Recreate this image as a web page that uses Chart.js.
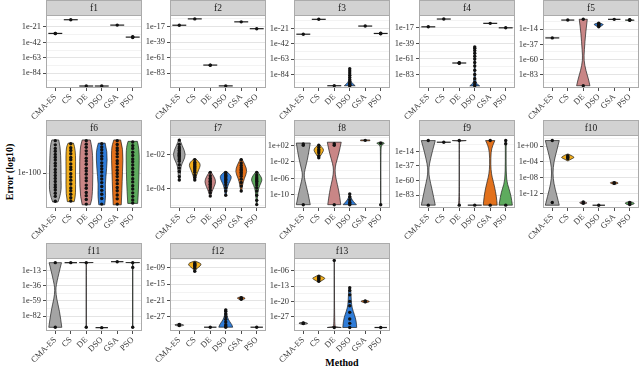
<!DOCTYPE html>
<html>
<head>
<meta charset="utf-8">
<script src="https://cdn.jsdelivr.net/npm/chart.js@4.4.1/dist/chart.umd.min.js"></script>
<style>
  body { margin: 0; background: #fff; width: 640px; height: 370px; overflow: hidden; position: relative; font-family: "Liberation Serif", serif; }
  canvas { position: absolute; }
  #ylab { position: absolute; left: 9px; top: 172px; transform: translate(-50%, -50%) rotate(-90deg); font-weight: bold; font-size: 10px; white-space: nowrap; color: #000; }
  #xlab { position: absolute; left: 342px; top: 362px; transform: translate(-50%, -50%); font-weight: bold; font-size: 10px; color: #000; }
</style>
</head>
<body>
<div id="ylab">Error (log10)</div>
<div id="xlab">Method</div>
<script>
// methods and fill colours
const methods = ['CMA-ES', 'CS', 'DE', 'DSO', 'GSA', 'PSO'];
const colours = ['#a4a4a4', '#f2ae1d', '#c98686', '#2f7cd8', '#e2711c', '#5eab5e'];

// y values are log10(error); violin knots are [log10 value, half width]
// f1
const f1Range = [-104, -5];
const f1Ticks = [-21, -42, -63, -84];
const f1Shapes = [[[-30, 0.45]], [[-11.4, 0.45]], [[-101.3, 0.45]], [[-101.3, 0.45]], [[-18.7, 0.45]], [[-35, 0.45]]];
const f1Points = [[-30, -30], [-11.4], [-101.3], [-101.3], [-18.7], [-34.5, -35, -35.5]];
// f2
const f2Range = [-104, -0.5];
const f2Ticks = [-17, -39, -61, -83];
const f2Shapes = [[[-15, 0.45]], [[-6, 0.45]], [[-71.5, 0.45]], [[-101, 0.45]], [[-10.2, 0.45]], [[-19.9, 0.45]]];
const f2Points = [[-15], [-6], [-71.5, -71.8], [-101], [-10.2], [-19.9]];
// f3
const f3Range = [-102.3, -2.7];
const f3Ticks = [-21, -42, -63, -84];
const f3Shapes = [[[-28.9, 0.45]], [[-8.6, 0.45]], [[-99.2, 0.45]],
  [[-76, 0.02], [-86, 0.03], [-93, 0.06], [-96.5, 0.2], [-99.2, 0.35]],
  [[-17.8, 0.45]], [[-27.9, 0.45]]];
const f3Points = [[-28.9], [-8.6], [-99.2], [-76, -79, -82, -85, -88, -91, -94, -96, -97.5, -98.5, -99.2], [-17.8], [-27.5, -27.9, -28.4]];
// f4
const f4Range = [-102, 1.1];
const f4Ticks = [-17, -39, -61, -83];
const f4Shapes = [[[-15.6, 0.45]], [[-4.6, 0.45]], [[-66.7, 0.45]],
  [[-44, 0.02], [-70, 0.02], [-90, 0.04], [-96, 0.12], [-99, 0.32]],
  [[-10.7, 0.45]], [[-17, 0.45]]];
const f4Points = [[-15.6], [-4.6], [-66.4, -66.7, -67], [-44, -46, -49, -53, -57, -61, -66, -71, -77, -83, -89, -94, -97, -99], [-10.7], [-17]];
// f5
const f5Range = [-103.4, 7.5];
const f5Ticks = [-14, -37, -60, -83];
const f5Shapes = [[[-27.3, 0.45]], [[-0.2, 0.42]],
  [[1, 0.26], [-20, 0.15], [-46, 0.07], [-61, 0.035], [-77, 0.17], [-90, 0.34], [-100, 0.43]],
  [[-4.5, 0.05], [-6.5, 0.33], [-8, 0.25], [-11, 0.04]],
  [[0.9, 0.4]], [[0.3, 0.05], [-0.3, 0.42], [-1, 0.05]]];
const f5Points = [[-27.3], [-0.2], [1, -100], [-5, -6, -6.8, -7.5, -8.5, -10.5], [0.9], [-0.2, -0.6, 0.2]];
// f6
const f6Range = [-100.99, -98.92];
const f6Ticks = [-100];
const f6Shapes = [
  [[-99.06, 0.22], [-99.22, 0.32], [-99.77, 0.37], [-100.23, 0.37], [-100.46, 0.39], [-100.69, 0.28], [-100.82, 0.17]],
  [[-99.15, 0.17], [-99.31, 0.32], [-100.05, 0.3], [-100.6, 0.32], [-100.81, 0.22]],
  [[-99.06, 0.26], [-99.31, 0.41], [-100.05, 0.43], [-100.69, 0.39], [-100.9, 0.26]],
  [[-99.15, 0.22], [-99.4, 0.37], [-99.86, 0.32], [-100.33, 0.22], [-100.65, 0.26], [-100.9, 0.19]],
  [[-99.06, 0.22], [-99.31, 0.39], [-99.96, 0.34], [-100.51, 0.3], [-100.9, 0.26]],
  [[-99.1, 0.3], [-99.31, 0.43], [-99.96, 0.41], [-100.5, 0.37], [-100.86, 0.32]]];
const f6Points = [
  [-99.08, -99.2, -99.3, -99.38, -99.47, -99.55, -99.63, -99.72, -99.8, -99.9, -99.98, -100.07, -100.15, -100.24, -100.33, -100.4, -100.48, -100.57, -100.66, -100.8],
  [-99.17, -99.28, -99.36, -99.45, -99.56, -99.62, -99.74, -99.83, -99.9, -100.02, -100.11, -100.2, -100.31, -100.42, -100.5, -100.6, -100.7, -100.79],
  [-99.08, -99.18, -99.27, -99.37, -99.46, -99.58, -99.66, -99.75, -99.86, -99.94, -100.03, -100.14, -100.22, -100.34, -100.43, -100.55, -100.64, -100.75, -100.88],
  [-99.17, -99.26, -99.34, -99.43, -99.52, -99.6, -99.71, -99.8, -99.88, -99.97, -100.08, -100.17, -100.27, -100.38, -100.49, -100.6, -100.72, -100.88],
  [-99.08, -99.19, -99.29, -99.36, -99.45, -99.54, -99.65, -99.73, -99.83, -99.92, -100.01, -100.1, -100.2, -100.3, -100.41, -100.5, -100.62, -100.73, -100.88],
  [-99.12, -99.22, -99.3, -99.41, -99.5, -99.6, -99.68, -99.77, -99.87, -99.97, -100.05, -100.16, -100.25, -100.36, -100.45, -100.56, -100.66, -100.76, -100.85]];
// f7
const f7Range = [-5.15, -0.85];
const f7Ticks = [-2, -4];
const f7Shapes = [
  [[-1.1, 0.02], [-1.5, 0.2], [-2.0, 0.43], [-2.4, 0.25], [-2.7, 0.1], [-3.2, 0.07], [-3.5, 0.03]],
  [[-2.25, 0.05], [-2.45, 0.3], [-2.65, 0.37], [-2.9, 0.25], [-3.2, 0.12], [-3.5, 0.03]],
  [[-3.0, 0.03], [-3.3, 0.25], [-3.6, 0.37], [-3.9, 0.25], [-4.2, 0.1], [-4.45, 0.03]],
  [[-3.0, 0.05], [-3.2, 0.33], [-3.4, 0.37], [-3.7, 0.2], [-4.0, 0.08], [-4.4, 0.03]],
  [[-2.25, 0.04], [-2.6, 0.25], [-3.0, 0.39], [-3.4, 0.2], [-3.8, 0.08], [-4.15, 0.03]],
  [[-3.0, 0.04], [-3.25, 0.25], [-3.5, 0.37], [-3.8, 0.2], [-4.2, 0.06], [-4.95, 0.02]]];
const f7Points = [
  [-1.15, -1.4, -1.55, -1.65, -1.75, -1.85, -1.92, -2.0, -2.05, -2.12, -2.2, -2.3, -2.4, -2.6, -2.8, -3.0, -3.3, -3.5],
  [-2.3, -2.45, -2.55, -2.62, -2.7, -2.78, -2.86, -2.95, -3.05, -3.2, -3.35, -3.5],
  [-3.05, -3.25, -3.4, -3.5, -3.58, -3.66, -3.75, -3.85, -3.95, -4.1, -4.25, -4.45],
  [-3.05, -3.15, -3.22, -3.3, -3.38, -3.46, -3.55, -3.65, -3.78, -3.95, -4.15, -4.4],
  [-2.3, -2.5, -2.65, -2.78, -2.88, -2.96, -3.05, -3.15, -3.28, -3.45, -3.65, -3.85, -4.15],
  [-3.05, -3.2, -3.32, -3.42, -3.5, -3.58, -3.68, -3.8, -3.95, -4.15, -4.4, -4.7, -4.95]];
// f8
const f8Range = [-13.2, 4.5];
const f8Ticks = [2, -2, -6, -10];
const f8Shapes = [
  [[2.55, 0.45], [-1, 0.3], [-4, 0.1], [-5.2, 0.05], [-6.5, 0.1], [-9.5, 0.3], [-12.4, 0.45]],
  [[2.1, 0.05], [1.4, 0.25], [0.8, 0.33], [0, 0.2], [-1, 0.03]],
  [[2.75, 0.45], [0, 0.3], [-2.5, 0.1], [-4, 0.04], [-6, 0.1], [-9, 0.3], [-12.4, 0.42]],
  [[-9.8, 0.02], [-10.8, 0.08], [-11.7, 0.25], [-12.4, 0.43]],
  [[3.3, 0.3], [3.1, 0.3]],
  [[2.8, 0.05], [2.5, 0.32], [2.2, 0.05], [1, 0.01], [-12.4, 0.01]]];
const f8Points = [[2.0, 2.3, -12.4], [2.0, 1.5, 1.0, 0.6, 0.2, -0.5, -1.0], [2.0, 2.4, -12.4], [-9.8, -10.5, -11.2, -11.8, -12.2, -12.4], [3.2], [2.5, -12.4]];
// f9
const f9Range = [-103.5, 11.8];
const f9Ticks = [-14, -37, -60, -83];
const f9Shapes = [
  [[3, 0.45], [-15, 0.25], [-35, 0.06], [-45, 0.03], [-55, 0.06], [-75, 0.25], [-99, 0.45]],
  [[0.4, 0.45]],
  [[3, 0.45], [2.2, 0.01], [1.4, 0.01], [-98, 0.01], [-99, 0.06]],
  [[-99, 0.45]],
  [[3, 0.3], [-5, 0.15], [-15, 0.05], [-35, 0.03], [-50, 0.08], [-60, 0.18], [-70, 0.28], [-85, 0.4], [-99, 0.45]],
  [[3, 0.03], [-30, 0.02], [-60, 0.05], [-72, 0.2], [-85, 0.35], [-99, 0.43]]];
const f9Points = [[3, -99], [0.4], [3, -99], [-99], [3, -99], [3, -2, -99]];
// f10
const f10Range = [-15.6, 2.8];
const f10Ticks = [0, -4, -8, -12];
const f10Shapes = [
  [[1.4, 0.45], [-1, 0.3], [-4, 0.1], [-6.8, 0.03], [-9.5, 0.1], [-12.5, 0.3], [-14.9, 0.45]],
  [[-2.0, 0.03], [-2.6, 0.35], [-2.9, 0.43], [-3.3, 0.2], [-3.7, 0.03]],
  [[-14.0, 0.05], [-14.3, 0.32], [-14.6, 0.05]],
  [[-14.9, 0.4]],
  [[-9.0, 0.05], [-9.3, 0.35], [-9.6, 0.05]],
  [[-14.0, 0.05], [-14.4, 0.4], [-14.8, 0.1]]];
const f10Points = [[1.4, -14.2], [-2.4, -2.7, -2.9, -3.2], [-14.1, -14.4], [-14.9], [-9.2, -9.4], [-14.2, -14.5, -14.7]];
// f11
const f11Range = [-104.8, 6.3];
const f11Ticks = [-13, -36, -59, -82];
const f11Shapes = [
  [[-0.8, 0.4], [-20, 0.2], [-35, 0.06], [-43, 0.03], [-55, 0.08], [-75, 0.28], [-99.2, 0.42]],
  [[-0.8, 0.4]],
  [[-0.6, 0.45], [-0.9, 0.01], [-1.2, 0.01], [-99, 0.01]],
  [[-99.7, 0.4]],
  [[0.7, 0.4]],
  [[-0.6, 0.45], [-0.9, 0.01], [-1.2, 0.01], [-99, 0.01]]];
const f11Points = [[-0.8, -99.2], [-0.8], [-0.8, -99], [-99.7], [0.7], [-0.8, -8, -99]];
// f12
const f12Range = [-32.3, -5.4];
const f12Ticks = [-9, -15, -21, -27];
const f12Shapes = [
  [[-29.7, 0.05], [-30.1, 0.4], [-30.5, 0.05]],
  [[-6.6, 0.05], [-7.2, 0.35], [-7.9, 0.43], [-8.8, 0.25], [-9.6, 0.08], [-10.4, 0.02]],
  [[-30.9, 0.4]],
  [[-24.3, 0.04], [-26, 0.06], [-27.5, 0.12], [-28.8, 0.25], [-30, 0.4], [-30.9, 0.45]],
  [[-19.7, 0.04], [-20.2, 0.35], [-20.8, 0.04]],
  [[-30.9, 0.4]]];
const f12Points = [[-29.9, -30.1, -30.3], [-7.2, -7.6, -7.9, -8.2, -8.6, -9.2, -10.3], [-30.9], [-24.5, -25, -26, -27, -28, -29, -30, -30.5, -30.9], [-20, -20.3, -20.6], [-30.9]];
// f13
const f13Range = [-33.5, -0.2];
const f13Ticks = [-6, -13, -20, -27];
const f13Shapes = [
  [[-29.5, 0.04], [-30, 0.4], [-30.5, 0.04]],
  [[-8, 0.04], [-9, 0.3], [-9.5, 0.43], [-10.3, 0.25], [-11.2, 0.03]],
  [[-1.3, 0.01], [-31, 0.01], [-31.6, 0.1], [-31.9, 0.45]],
  [[-13.8, 0.04], [-16, 0.08], [-20, 0.1], [-23, 0.15], [-26, 0.3], [-29, 0.42], [-31.9, 0.45]],
  [[-19.5, 0.04], [-20, 0.38], [-20.6, 0.04]],
  [[-31.9, 0.4]]];
const f13Points = [[-29.8, -30.1], [-8.6, -9.2, -9.6, -10.1, -10.8], [-1.3, -31.9], [-13.8, -15, -17, -20, -22, -25, -28, -30, -31.9], [-19.8, -20.2], [-31.9]];

const panels = [
  { title: 'f1', range: f1Range, ticks: f1Ticks, shapes: f1Shapes, points: f1Points },
  { title: 'f2', range: f2Range, ticks: f2Ticks, shapes: f2Shapes, points: f2Points },
  { title: 'f3', range: f3Range, ticks: f3Ticks, shapes: f3Shapes, points: f3Points },
  { title: 'f4', range: f4Range, ticks: f4Ticks, shapes: f4Shapes, points: f4Points },
  { title: 'f5', range: f5Range, ticks: f5Ticks, shapes: f5Shapes, points: f5Points },
  { title: 'f6', range: f6Range, ticks: f6Ticks, shapes: f6Shapes, points: f6Points },
  { title: 'f7', range: f7Range, ticks: f7Ticks, shapes: f7Shapes, points: f7Points },
  { title: 'f8', range: f8Range, ticks: f8Ticks, shapes: f8Shapes, points: f8Points },
  { title: 'f9', range: f9Range, ticks: f9Ticks, shapes: f9Shapes, points: f9Points },
  { title: 'f10', range: f10Range, ticks: f10Ticks, shapes: f10Shapes, points: f10Points },
  { title: 'f11', range: f11Range, ticks: f11Ticks, shapes: f11Shapes, points: f11Points },
  { title: 'f12', range: f12Range, ticks: f12Ticks, shapes: f12Shapes, points: f12Points },
  { title: 'f13', range: f13Range, ticks: f13Ticks, shapes: f13Shapes, points: f13Points }
];

// layout of the facet grid
const colLeft = [46, 170, 294, 419, 543];
const rowTop = [0, 120, 243];
const AXW = 46, STRIP = 15, PLOTH = 73, XAXH = 32, PLOTW = 96;
const FONT = '"Liberation Serif", "DejaVu Serif", serif';

function fmtExp(v) {
  const a = Math.abs(Math.round(v));
  return '1e' + (v < 0 ? '-' : '+') + (a < 10 ? '0' + a : a);
}

// draw one side of a violin, smoothed a little
function side(ctx, pts, first) {
  if (first) ctx.moveTo(pts[0][0], pts[0][1]); else ctx.lineTo(pts[0][0], pts[0][1]);
  for (let j = 1; j < pts.length - 1; j++) {
    const mx = (pts[j][0] + pts[j + 1][0]) / 2, my = (pts[j][1] + pts[j + 1][1]) / 2;
    ctx.quadraticCurveTo(pts[j][0], pts[j][1], mx, my);
  }
  const l = pts[pts.length - 1];
  ctx.lineTo(l[0], l[1]);
}

function violinPlugin(p) {
  return {
    id: 'violins',
    beforeDatasetsDraw(chart) {
      const { ctx, chartArea: a, scales: { x, y } } = chart;
      ctx.save();
      ctx.beginPath();
      ctx.rect(a.left, a.top, a.right - a.left, a.bottom - a.top);
      ctx.clip();
      p.shapes.forEach((knots, i) => {
        const c = i + 1;
        ctx.beginPath();
        if (knots.length === 1) {
          const yy = y.getPixelForValue(knots[0][0]);
          ctx.moveTo(x.getPixelForValue(c - knots[0][1]), yy);
          ctx.lineTo(x.getPixelForValue(c + knots[0][1]), yy);
          ctx.lineWidth = 1.2;
          ctx.strokeStyle = '#1f1f1f';
          ctx.stroke();
          return;
        }
        const right = knots.map(k => [x.getPixelForValue(c + k[1]), y.getPixelForValue(k[0])]);
        const left = knots.map(k => [x.getPixelForValue(c - k[1]), y.getPixelForValue(k[0])]).reverse();
        side(ctx, right, true);
        side(ctx, left, false);
        ctx.closePath();
        ctx.fillStyle = colours[i];
        ctx.fill();
        ctx.lineWidth = 0.7;
        ctx.strokeStyle = '#1f1f1f';
        ctx.stroke();
      });
      ctx.restore();
    }
  };
}

function framePlugin(p) {
  return {
    id: 'frame',
    afterDraw(chart) {
      const { ctx, chartArea: a } = chart;
      const w = a.right - a.left;
      ctx.save();
      ctx.strokeStyle = '#ababab';
      ctx.lineWidth = 1;
      ctx.strokeRect(a.left + 0.5, a.top + 0.5, w - 1, a.bottom - a.top - 1);
      ctx.fillStyle = '#d2d2d2';
      ctx.fillRect(a.left, a.top - STRIP, w, STRIP);
      ctx.strokeRect(a.left + 0.5, a.top - STRIP + 0.5, w - 1, STRIP);
      ctx.fillStyle = '#1a1a1a';
      ctx.font = '9.5px ' + FONT;
      ctx.textAlign = 'center';
      ctx.textBaseline = 'middle';
      ctx.fillText(p.title, a.left + w / 2, a.top - STRIP / 2 + 0.5);
      ctx.restore();
    }
  };
}

panels.forEach((p, k) => {
  const col = k % 5, row = Math.floor(k / 5);
  const cv = document.createElement('canvas');
  cv.width = AXW + PLOTW + 2;
  cv.height = STRIP + PLOTH + XAXH;
  cv.style.left = (colLeft[col] - AXW) + 'px';
  cv.style.top = rowTop[row] + 'px';
  document.body.appendChild(cv);

  const majors = p.ticks;
  const allTicks = majors.slice();
  if (majors.length > 1) {
    const step = majors[0] - majors[1];
    for (let v = majors[0] + step / 2; v > p.range[0]; v -= step) {
      if (v < p.range[1] && !majors.includes(v)) allTicks.push(v);
    }
  }
  const isMajor = v => majors.some(m => Math.abs(m - v) < 1e-9);

  const pts = [];
  p.points.forEach((vals, i) => vals.forEach(v => pts.push({ x: i + 1, y: v })));

  new Chart(cv, {
    type: 'scatter',
    data: {
      datasets: [{
        data: pts,
        pointRadius: 1.7,
        pointBackgroundColor: '#111',
        pointBorderWidth: 0,
        showLine: false
      }]
    },
    options: {
      responsive: false,
      animation: false,
      events: [],
      layout: { autoPadding: false, padding: { top: STRIP, right: 2, left: 0, bottom: 0 } },
      plugins: { legend: { display: false }, tooltip: { enabled: false } },
      scales: {
        x: {
          type: 'linear', min: 0.4, max: 6.6,
          afterBuildTicks: s => { s.ticks = [1, 2, 3, 4, 5, 6].map(v => ({ value: v })); },
          afterFit: s => { s.height = XAXH; },
          border: { display: false },
          grid: { drawOnChartArea: false, tickLength: 3, tickColor: '#4d4d4d' },
          ticks: {
            autoSkip: false, minRotation: 45, maxRotation: 45, padding: 1,
            color: '#333', font: { family: FONT, size: 8.5 },
            callback: v => methods[Math.round(v) - 1]
          }
        },
        y: {
          type: 'linear', min: p.range[0], max: p.range[1],
          afterBuildTicks: s => { s.ticks = allTicks.slice().sort((a, b) => b - a).map(v => ({ value: v })); },
          afterFit: s => { s.width = AXW; },
          border: { display: false },
          grid: {
            tickLength: 3,
            color: c => isMajor(c.tick.value) ? '#e4e4e4' : '#f3f3f3',
            tickColor: c => isMajor(c.tick.value) ? '#4d4d4d' : 'rgba(0,0,0,0)'
          },
          ticks: {
            autoSkip: false, padding: 2,
            color: '#333', font: { family: FONT, size: 8.5 },
            callback: v => isMajor(v) ? fmtExp(v) : ''
          }
        }
      }
    },
    plugins: [violinPlugin(p), framePlugin(p)]
  });
});
</script>
</body>
</html>
